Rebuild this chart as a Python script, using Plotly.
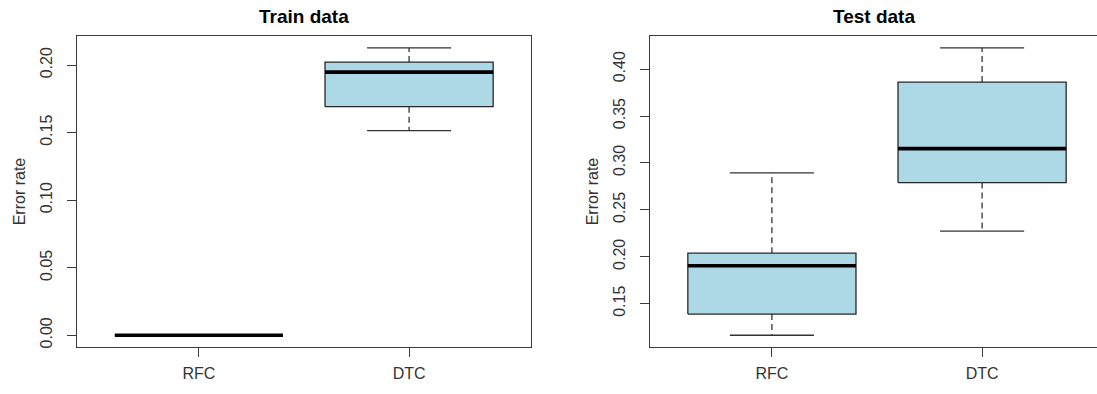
import plotly.graph_objects as go

# Box-plot summary statistics (whisker ends, quartiles, median) per classifier
categories = ["RFC", "DTC"]
positions = [1, 2]

train_lower = [0.0, 0.1515]
train_q1 = [0.0, 0.1692]
train_median = [0.0, 0.1948]
train_q3 = [0.0, 0.2022]
train_upper = [0.0, 0.2128]

test_lower = [0.1163, 0.2273]
test_q1 = [0.1389, 0.2790]
test_median = [0.1904, 0.3152]
test_q3 = [0.2038, 0.3862]
test_upper = [0.2894, 0.4227]

train_ticks = [0.00, 0.05, 0.10, 0.15, 0.20]
test_ticks = [0.15, 0.20, 0.25, 0.30, 0.35, 0.40]

BOX_HALF = 0.4      # boxwex 0.8
CAP_HALF = 0.2      # staple half width
FILL = "#ADD8E6"    # lightblue
LINE = "#262626"
FONT = "Liberation Sans, Arial, sans-serif"
TXT = "#333333"

W, H = 1097, 394


def add_boxes(fig, lower, q1, med, q3, upper, xa, ya):
    bx, by, wx, wy, cx, cy, mx, my = [], [], [], [], [], [], [], []
    for p, lo, a, m, b, hi in zip(positions, lower, q1, med, q3, upper):
        bx += [p - BOX_HALF, p + BOX_HALF, p + BOX_HALF, p - BOX_HALF, p - BOX_HALF, None]
        by += [a, a, b, b, a, None]
        wx += [p, p, None, p, p, None]
        wy += [b, hi, None, a, lo, None]
        cx += [p - CAP_HALF, p + CAP_HALF, None, p - CAP_HALF, p + CAP_HALF, None]
        cy += [hi, hi, None, lo, lo, None]
        mx += [p - BOX_HALF, p + BOX_HALF, None]
        my += [m, m, None]
    common = dict(xaxis=xa, yaxis=ya, mode="lines", showlegend=False, hoverinfo="skip")
    fig.add_trace(go.Scatter(x=wx, y=wy, line=dict(color="#333333", width=1.3, dash="6px,4px"), **common))
    fig.add_trace(go.Scatter(x=cx, y=cy, line=dict(color="#333333", width=1.3), **common))
    fig.add_trace(go.Scatter(x=bx, y=by, fill="toself", fillcolor=FILL,
                             line=dict(color=LINE, width=1.3), **common))
    fig.add_trace(go.Scatter(x=mx, y=my, line=dict(color="black", width=3.6), **common))


def padded(lo_vals, hi_vals):
    lo, hi = min(lo_vals), max(hi_vals)
    ext = 0.04 * (hi - lo)
    return [lo - ext, hi + ext]


fig = go.Figure()
add_boxes(fig, train_lower, train_q1, train_median, train_q3, train_upper, "x", "y")
add_boxes(fig, test_lower, test_q1, test_median, test_q3, test_upper, "x2", "y2")

# panel geometry in pixels
left1, right1 = 77, 531
left2 = 650
top, bottom = 36.5, 348.5
unit_px = (right1 - left1) / 2.16
x_range = [0.42, 2.58]
x2_range = [0.42, 0.42 + (W - left2) / unit_px]
y_dom = [1 - bottom / H, 1 - top / H]

axis_line = dict(showline=True, linecolor="#3a3a3a", linewidth=1.4, showgrid=False,
                 zeroline=False, ticks="outside", ticklen=9, tickcolor="#3a3a3a",
                 tickwidth=1.3, tickfont=dict(family=FONT, size=16, color=TXT))
ytitle = dict(text="Error rate", font=dict(family=FONT, size=16, color=TXT), standoff=8)

fig.update_layout(
    width=W, height=H, margin=dict(l=0, r=0, t=0, b=0),
    paper_bgcolor="white", plot_bgcolor="white",
    font=dict(family=FONT, color=TXT),
    xaxis=dict(domain=[left1 / W, right1 / W], range=x_range, tickvals=positions,
               ticktext=categories, mirror=True, anchor="y", ticklabelstandoff=3, **axis_line),
    yaxis=dict(domain=y_dom, range=padded(train_lower, train_upper), tickvals=train_ticks,
               tickformat=".2f", tickangle=-90, mirror=True, anchor="x", ticklabelstandoff=8,
               title=ytitle, **axis_line),
    xaxis2=dict(domain=[left2 / W, 1.0], range=x2_range, tickvals=positions,
                ticktext=categories, mirror=True, anchor="y2", ticklabelstandoff=3, **axis_line),
    yaxis2=dict(domain=y_dom, range=padded(test_lower, test_upper), tickvals=test_ticks,
                tickformat=".2f", tickangle=-90, mirror=False, anchor="x2", ticklabelstandoff=8,
                title=ytitle, **axis_line),
)

for xref, title in [("x domain", "Train data"), ("x2 domain", "Test data")]:
    fig.add_annotation(text="<b>" + title + "</b>", xref=xref, yref="paper", x=0.5,
                       y=1 - 17 / H, xanchor="center", yanchor="middle", showarrow=False,
                       font=dict(family=FONT, size=19, color="black"))

fig.write_html("out.html")
